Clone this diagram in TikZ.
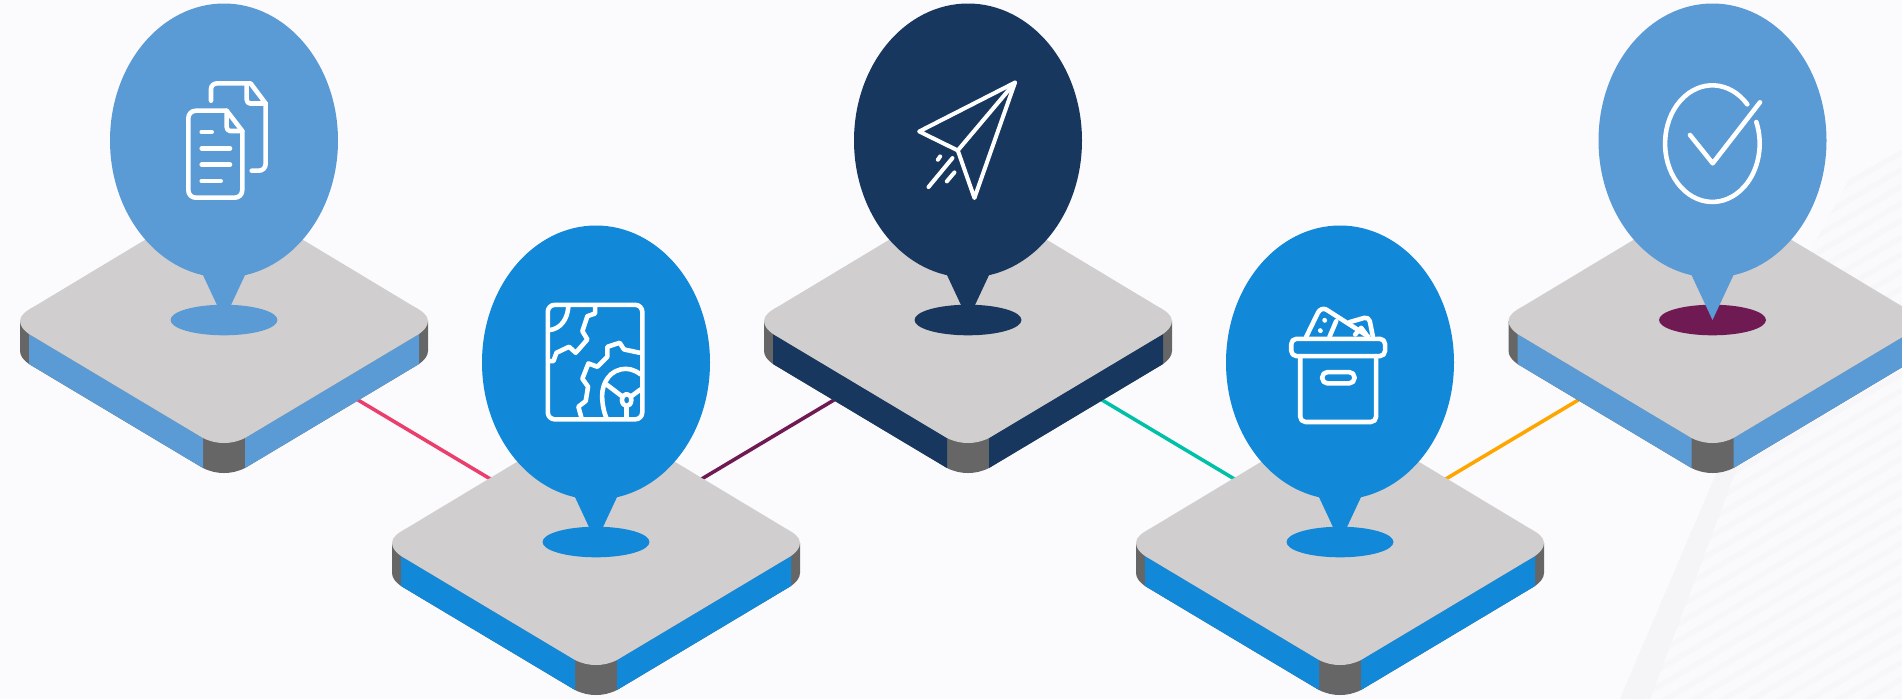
\documentclass[tikz,border=0pt]{standalone}
\definecolor{bgc}{HTML}{FBFAFD}
\definecolor{facec}{HTML}{D0CECE}
\definecolor{sidec}{HTML}{666666}
\definecolor{lblue}{HTML}{5B9BD5}
\definecolor{mblue}{HTML}{1188D8}
\definecolor{navy}{HTML}{17375E}
\definecolor{plum}{HTML}{701A54}
\definecolor{pinkc}{HTML}{EA3F6D}
\definecolor{tealc}{HTML}{00C0A8}
\definecolor{orangec}{HTML}{FFA500}
\definecolor{wm}{HTML}{FAF9FC}
\definecolor{wms}{HTML}{F7F6F9}
\definecolor{wmb}{HTML}{F5F4F7}
\tikzset{
  link/.style={line width=1pt},
  icon/.style={draw=white,line width=1.3pt,line cap=round,line join=round},
  iconthin/.style={draw=white,line width=1.15pt,line cap=round,line join=round},
}
% #1 centre coordinate, #2 side colour, #3 dot colour, #4 balloon colour
\newcommand{\platformdraw}[4]{%
  \begin{scope}[shift={(#1)}]
    \fill[sidec] (-204,1) -- (-204,31) .. controls (-204,36) and (-200,40.5) .. (-195,44)
      -- (-21,148) .. controls (-14,151.5) and (-7,153) .. (0,153)
      .. controls (7,153) and (14,151.5) .. (21,148)
      -- (195,44) .. controls (200,40.5) and (204,36) .. (204,31) -- (204,1) -- cycle;
    \fill[#2] (-195,14) -- (-21,118) -- (-21,148) -- (-195,44) -- cycle;
    \fill[#2] (195,14) -- (21,118) -- (21,148) -- (195,44) -- cycle;
    \fill[facec] (-189,-14) .. controls (-198,-9) and (-204,-5) .. (-204,1)
      .. controls (-204,6) and (-200,10.5) .. (-195,14)
      -- (-21,118) .. controls (-14,121.5) and (-7,123) .. (0,123)
      .. controls (7,123) and (14,121.5) .. (21,118)
      -- (195,14) .. controls (200,10.5) and (204,6) .. (204,1)
      .. controls (204,-5) and (198,-9) .. (189,-14)
      -- (21,-115) .. controls (14,-118) and (7,-120) .. (0,-120)
      .. controls (-7,-120) and (-14,-118) .. (-21,-115) -- cycle;
    \fill[#3] (0,0) ellipse[x radius=53.5,y radius=15.3];
    \fill[#4] (0,-179.5) ellipse[x radius=114,y radius=137];
    \fill[#4] (-21.5,-46) -- (21.5,-46) -- (0,0) -- cycle;
  \end{scope}}
\begin{document}
\begin{tikzpicture}[x=0.01cm,y=-0.01cm]
  \useasboundingbox (0,0) rectangle (1902,699);
  \clip (0,0) rectangle (1902,699);
  \fill[bgc] (0,0) rectangle (1902,699);
  % faint background watermark
  \fill[wm] (1620,699) -- (1720,465) -- (1800,270) -- (1850,178) -- (1902,150) -- (1902,699) -- cycle;
  \begin{scope}
    \clip (1620,699) -- (1720,465) -- (1800,270) -- (1850,178) -- (1902,150) -- (1902,699) -- cycle;
    \foreach \k in {0,...,40} {
      \draw[wms,line width=1.5pt] (1600,{330+\k*17}) -- (1902,{152+\k*17});
    }
  \end{scope}
  \fill[wmb] (1620,699) -- (1720,465) -- (1738,465) -- (1650,699) -- cycle;
  % platform centres
  \coordinate (p1) at (224,320);
  \coordinate (p2) at (596,542);
  \coordinate (p3) at (968,320);
  \coordinate (p4) at (1340,542);
  \coordinate (p5) at (1712.5,320);
  % connectors
  \draw[link,pinkc] (p1) -- (p2);
  \draw[link,plum] (p2) -- (p3);
  \draw[link,tealc] (p3) -- (p4);
  \draw[link,orangec] (p4) -- (p5);
  % platforms
  \platformdraw{p1}{lblue}{lblue}{lblue}
  \platformdraw{p2}{mblue}{mblue}{mblue}
  \platformdraw{p3}{navy}{navy}{navy}
  \platformdraw{p4}{mblue}{mblue}{mblue}
  \platformdraw{p5}{lblue}{plum}{lblue}
  % icon 1: documents
  \begin{scope}[icon]
    \draw (226.7,110.7) -- (196,110.7) .. controls (191.5,110.7) and (188.3,114) .. (188.3,118.5)
      -- (188.3,190) .. controls (188.3,194.5) and (191.5,197.7) .. (196,197.7)
      -- (234.5,197.7) .. controls (239,197.7) and (242.3,194.5) .. (242.3,190)
      -- (242.3,131) -- cycle;
    \draw (226.7,110.7) -- (226.7,127) .. controls (226.7,129) and (228,131) .. (230,131) -- (242.3,131);
    \draw (201.7,132) -- (211.7,132);
    \draw (201.7,148.3) -- (230,148.3);
    \draw (201.7,164.7) -- (230,164.7);
    \draw (201.7,181) -- (220.7,181);
    \draw (211,100.7) -- (211,89) .. controls (211,85.5) and (214,83.3) .. (217.5,83.3)
      -- (250.5,83.3) -- (265.7,103.5) -- (265.7,163.5)
      .. controls (265.7,168) and (262.5,170.7) .. (258.5,170.7) -- (251.7,170.7);
    \draw (246.7,83.3) -- (246.7,99.5) .. controls (246.7,101.7) and (248,103.5) .. (250,103.5) -- (265.7,103.5);
  \end{scope}
  % icon 2: map
  \begin{scope}[icon,x=0.0033333cm,y=-0.0033333cm,shift={(1560,870)}]
    \draw[rounded corners=2pt] (86,46) rectangle (370,390);
    \draw (148,50) .. controls (145,90) and (125,118) .. (90,122);
    \draw (228,50) -- (228,72) -- (205,80) -- (190,125) -- (205,150) -- (170,190) -- (150,172) -- (112,190) -- (103,215) -- (88,215);
    \draw (362,190) -- (315,180) -- (302,160) -- (265,172) -- (265,202) -- (235,232) -- (208,222) -- (190,268) -- (207,292) -- (200,335) -- (178,352) -- (187,385);
    \draw (365,255) .. controls (345,240) and (325,235) .. (305,240) .. controls (262,250) and (245,295) .. (250,335) .. controls (252,355) and (256,372) .. (262,385);
    \draw (323,332) ellipse[x radius=14,y radius=18];
    \draw (262,285) -- (308,320);
    \draw (365,300) -- (338,320);
    \draw (323,352) -- (323,385);
  \end{scope}
  % icon 3: paper plane
  \begin{scope}[iconthin,x=0.0033333cm,y=-0.0033333cm,shift={(2700,180)}]
    \draw (350,68) -- (62,215) -- (178,272) -- (228,415) -- cycle;
    \draw (178,272) -- (350,68);
    \draw (90,382) -- (162,295);
    \draw (118,300) -- (125,290);
    \draw (145,365) -- (168,338);
  \end{scope}
  % icon 4: ballot box
  \begin{scope}[icon,x=0.0033333cm,y=-0.0033333cm,shift={(3810,840)}]
    \draw[rounded corners=1.5pt] (70,178) rectangle (352,230);
    \draw[rounded corners=1.5pt] (97,230) -- (97,428) -- (325,428) -- (325,230);
    \draw[rounded corners=1.5pt] (163,278) rectangle (260,312);
    \draw (115,172) -- (150,100) .. controls (155,90) and (165,85) .. (175,90) -- (300,170);
    \draw (185,172) -- (205,125);
    \draw (245,128) -- (290,115) .. controls (298,113) and (304,118) .. (306,125) -- (315,170);
    \draw (170,122) -- (171,123);
    \draw (157,153) -- (158,154);
    \draw (262,165) -- (280,145) -- (295,165);
  \end{scope}
  % icon 5: check mark
  \begin{scope}[icon]
    \draw (1747.3,104.3) arc[start angle=-42.4,end angle=-381.8,x radius=47.3,y radius=58.3];
    \draw (1690,135) -- (1712.7,163.3) -- (1760,102.3);
  \end{scope}
\end{tikzpicture}
\end{document}
